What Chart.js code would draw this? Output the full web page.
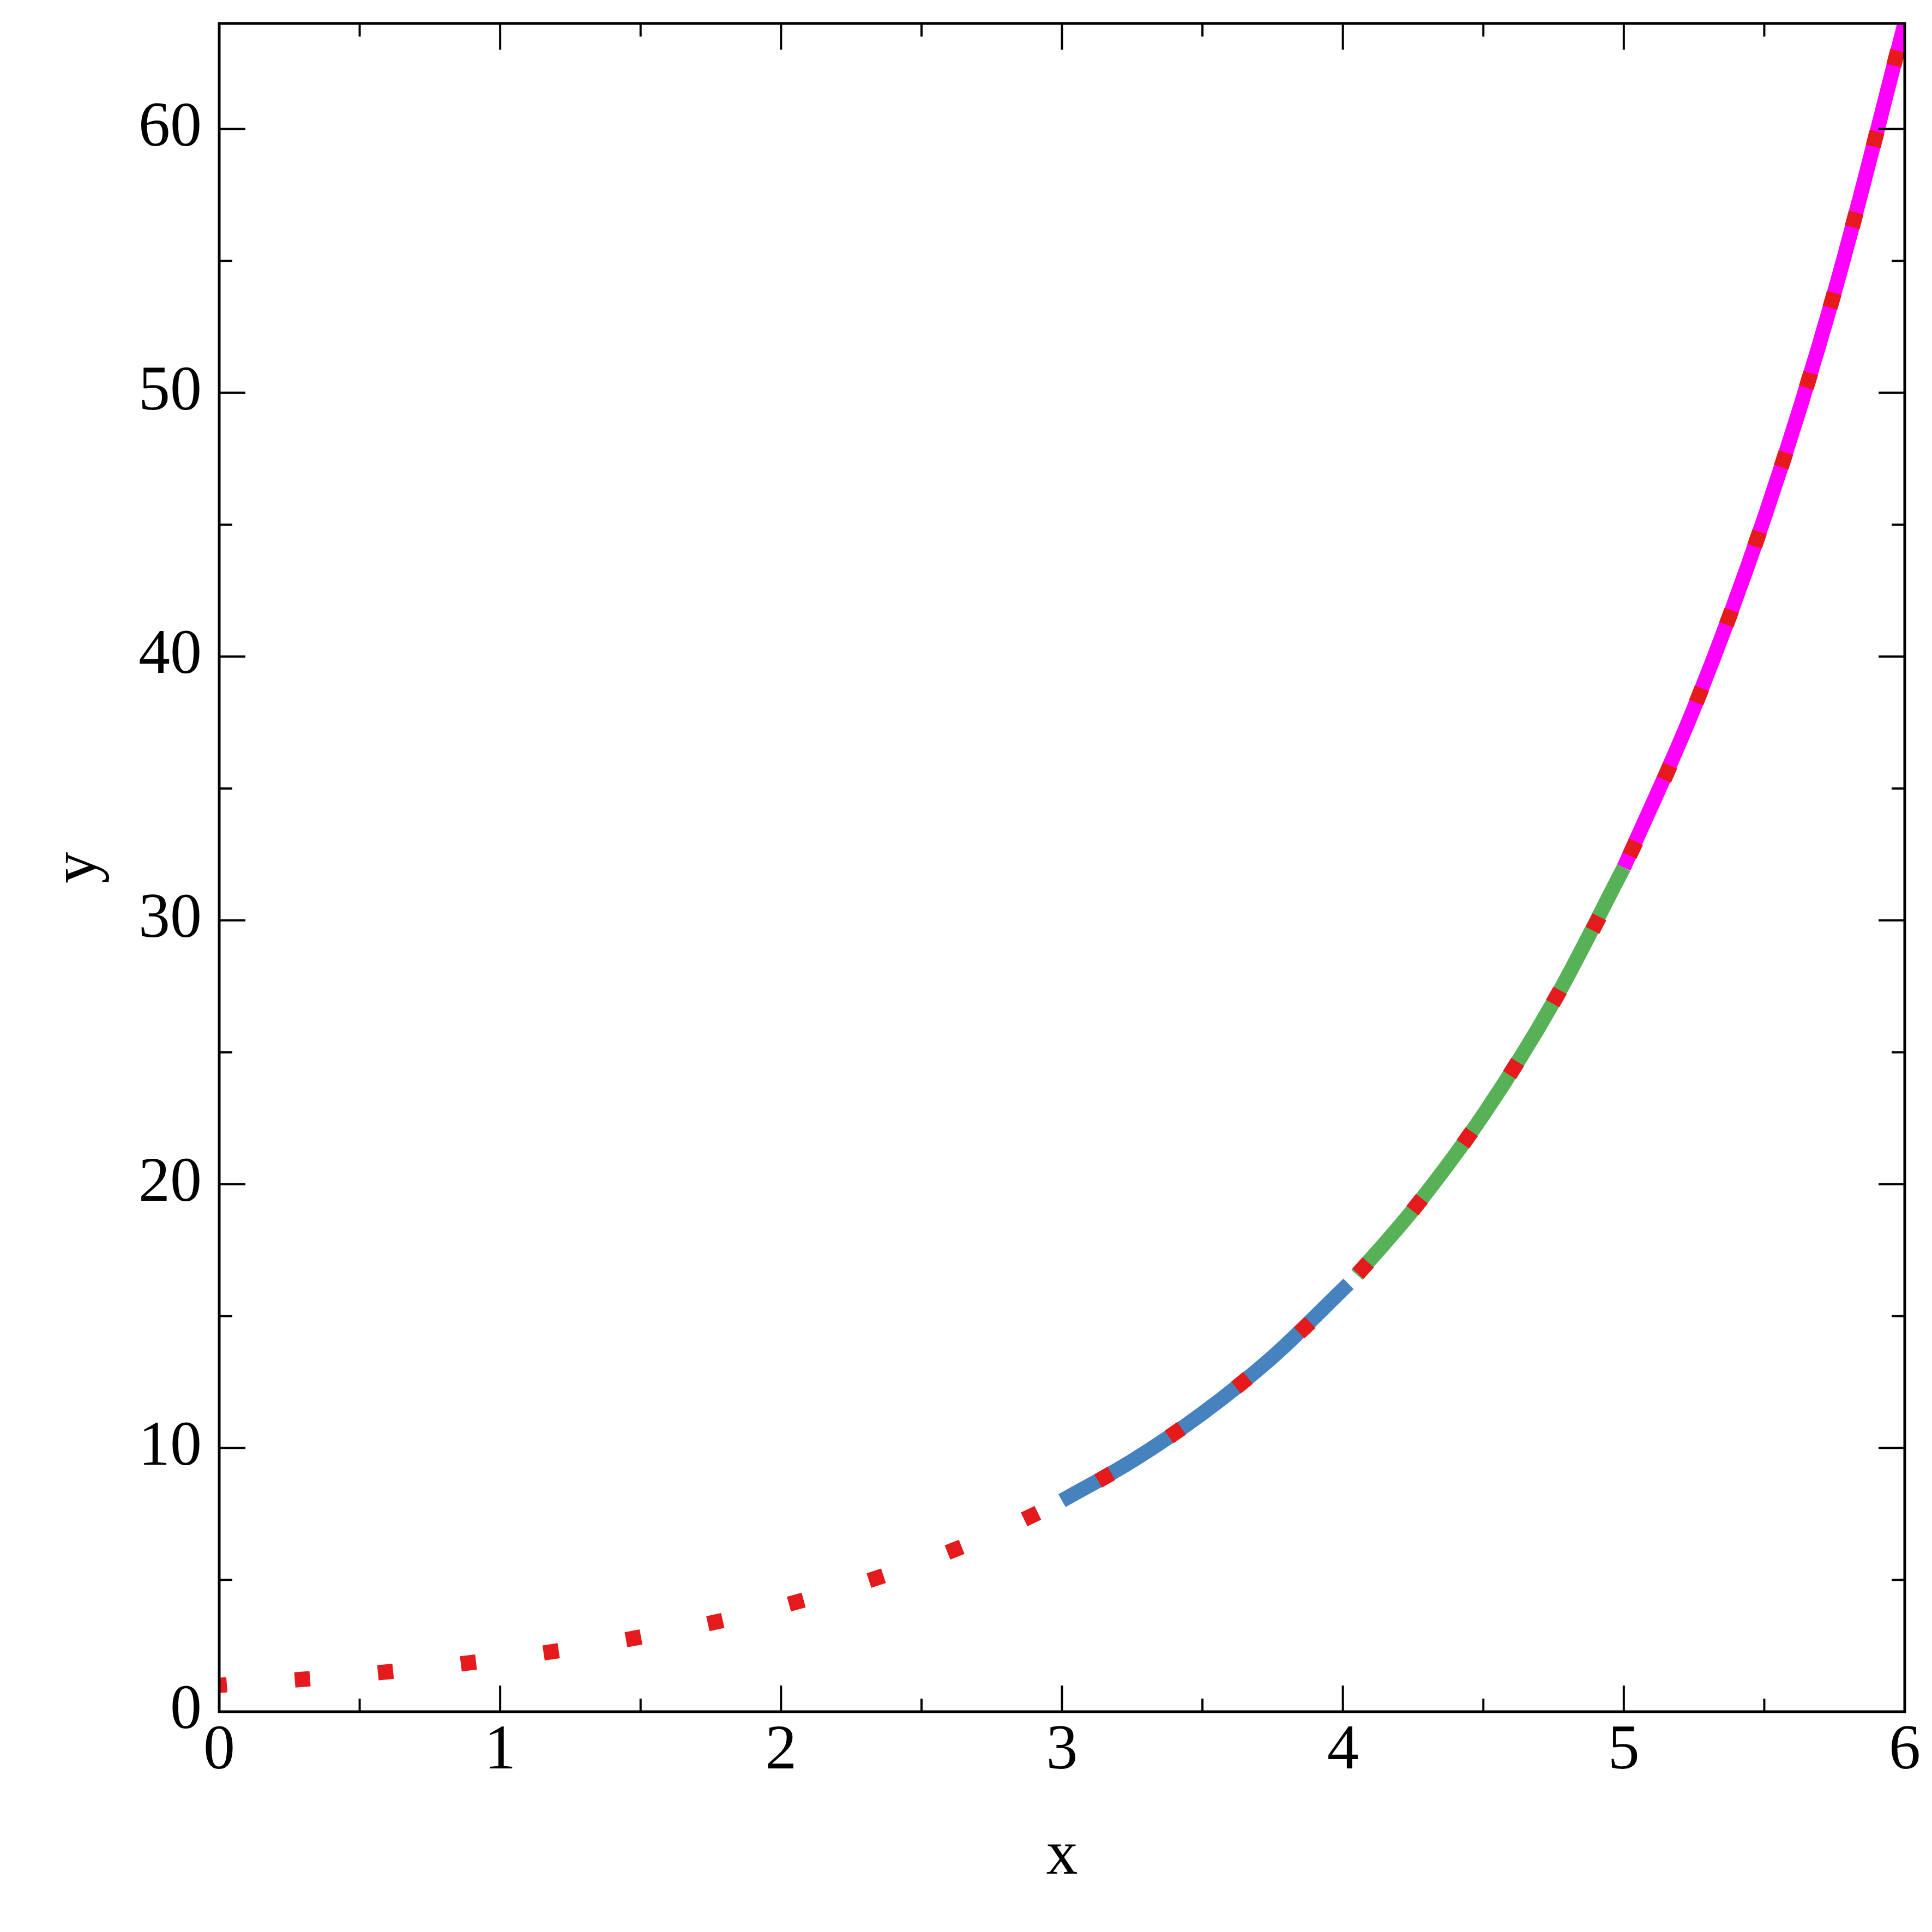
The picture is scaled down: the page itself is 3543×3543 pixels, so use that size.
<!DOCTYPE html>
<html>
<head>
<meta charset="utf-8">
<script src="https://cdn.jsdelivr.net/npm/chart.js@4/dist/chart.umd.min.js"></script>
<style>
  html, body { margin: 0; padding: 0; background: #fff; }
  #wrap { width: 3543px; height: 3543px; }
</style>
</head>
<body>
<div id="wrap"><canvas id="plot" width="3543" height="3543"></canvas></div>
<script>
// red dotted curve, x from 0 to 6
const redX = [0, 0.25, 0.5, 0.75, 1, 1.25, 1.5, 1.75, 2, 2.25, 2.5, 2.75, 3, 3.25, 3.5, 3.75, 4, 4.25, 4.5, 4.75, 5, 5.25, 5.5, 5.75, 6];
const redY = [1, 1.19, 1.41, 1.68, 2, 2.38, 2.83, 3.36, 4, 4.76, 5.66, 6.73, 8, 9.51, 11.31, 13.45, 16, 19.03, 22.63, 26.91, 32, 38.05, 45.25, 53.82, 64];

// blue segment
const blueX = [3, 3.25, 3.5, 3.75, 4.02];
const blueY = [8, 9.51, 11.31, 13.45, 16.22];

// green segment
const greenX = [4.05, 4.25, 4.5, 4.75, 5];
const greenY = [16.56, 19.03, 22.63, 26.91, 32];

// magenta segment
const magentaX = [5, 5.25, 5.5, 5.75, 6];
const magentaY = [32, 38.05, 45.25, 53.82, 64];

const xTicks = [0, 1, 2, 3, 4, 5, 6];
const yTicks = [0, 10, 20, 30, 40, 50, 60];

const toPts = (xs, ys) => xs.map((x, i) => ({ x: x, y: ys[i] }));

const FONT = '"Liberation Serif", "Times New Roman", serif';

/* frame + inward ticks on all four sides */
const framePlugin = {
  id: "frame",
  afterDraw(chart) {
    const { ctx, chartArea: a, scales } = chart;
    ctx.save();
    ctx.strokeStyle = "#000";
    ctx.lineWidth = 4;
    ctx.lineCap = "butt";
    scales.x.ticks.forEach(t => {
      const px = scales.x.getPixelForValue(t.value);
      const len = xTicks.includes(t.value) ? 48 : 24;
      ctx.beginPath();
      ctx.moveTo(px, a.bottom); ctx.lineTo(px, a.bottom - len);
      ctx.moveTo(px, a.top); ctx.lineTo(px, a.top + len);
      ctx.stroke();
    });
    scales.y.ticks.forEach(t => {
      const py = scales.y.getPixelForValue(t.value);
      const len = yTicks.includes(t.value) ? 48 : 24;
      ctx.beginPath();
      ctx.moveTo(a.left, py); ctx.lineTo(a.left + len, py);
      ctx.moveTo(a.right, py); ctx.lineTo(a.right - len, py);
      ctx.stroke();
    });
    ctx.lineWidth = 5;
    ctx.lineJoin = "miter";
    ctx.strokeRect(a.left, a.top, a.right - a.left, a.bottom - a.top);
    ctx.restore();
  }
};

function draw() {
  new Chart(document.getElementById("plot"), {
    type: "line",
    data: {
      datasets: [
        {
          data: toPts(redX, redY),
          borderColor: "#e41a1c",
          borderWidth: 28,
          borderDash: [28, 125],
          borderDashOffset: 14,
          borderCapStyle: "butt",
          order: 0
        },
        {
          data: toPts(blueX, blueY),
          borderColor: "#4682be",
          borderWidth: 27,
          borderCapStyle: "butt",
          order: 1
        },
        {
          data: toPts(greenX, greenY),
          borderColor: "#57b257",
          borderWidth: 27,
          borderCapStyle: "butt",
          order: 1
        },
        {
          data: toPts(magentaX, magentaY),
          borderColor: "#ff00ff",
          borderWidth: 27,
          borderCapStyle: "butt",
          order: 1
        }
      ]
    },
    options: {
      responsive: false,
      animation: false,
      devicePixelRatio: 1,
      layout: { padding: { left: 0, top: 43, right: 50, bottom: 0 } },
      elements: {
        point: { radius: 0 },
        line: { cubicInterpolationMode: "monotone", fill: false }
      },
      plugins: {
        legend: { display: false },
        tooltip: { enabled: false }
      },
      scales: {
        x: {
          type: "linear",
          min: 0,
          max: 6,
          grid: { display: false, drawTicks: false },
          border: { display: false },
          ticks: {
            stepSize: 0.5,
            padding: 4,
            maxRotation: 0,
            autoSkip: false,
            color: "#000",
            font: { family: FONT, size: 116 },
            callback: v => (xTicks.includes(v) ? String(v) : "")
          },
          title: {
            display: true,
            text: "x",
            color: "#000",
            font: { family: FONT, size: 116 },
            padding: { top: 68, bottom: 68 }
          },
          afterFit: s => { s.height = 404; s.paddingLeft = 0; s.paddingRight = 0; }
        },
        y: {
          type: "linear",
          min: 0,
          max: 64,
          grid: { display: false, drawTicks: false },
          border: { display: false },
          ticks: {
            stepSize: 5,
            padding: 32,
            autoSkip: false,
            color: "#000",
            font: { family: FONT, size: 116 },
            callback: v => (yTicks.includes(v) ? String(v) : "")
          },
          title: {
            display: true,
            text: "y",
            color: "#000",
            font: { family: FONT, size: 116 },
            padding: { top: 75, bottom: 75 }
          },
          afterFit: s => { s.width = 402; s.paddingTop = 0; s.paddingBottom = 0; }
        }
      }
    },
    plugins: [framePlugin]
  });
}

document.fonts.load('116px "Liberation Serif"').then(draw, draw);
</script>
</body>
</html>
